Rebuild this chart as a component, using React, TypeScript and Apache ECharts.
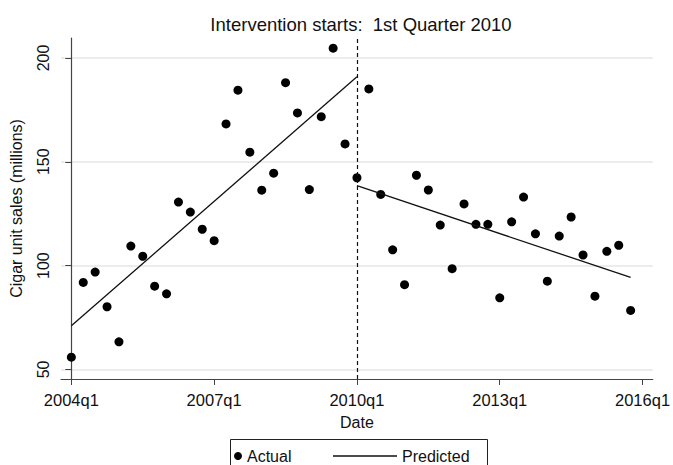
import React, { useEffect, useRef } from "react";
import * as echarts from "echarts";

const quarters: string[] = [];
const startYear = 2004;
for (let y = startYear; y <= 2015; y++) for (let q = 1; q <= 4; q++) quarters.push(`${y}q${q}`);

const actual = [
  55.9, 91.9, 96.9, 80.2, 63.3, 109.4, 104.5, 90.1, 86.4, 130.6, 125.8, 117.5,
  112.0, 168.2, 184.5, 154.6, 136.3, 144.5, 188.1, 173.5, 136.6, 171.7, 204.7, 158.6,
  142.3, 185.1, 134.3, 107.6, 90.8, 143.5, 136.4, 119.5, 98.5, 129.7, 119.9, 119.9,
  84.5, 121.1, 133.0, 115.3, 92.5, 114.2, 123.4, 105.1, 85.3, 106.9, 109.8, 78.4,
];

const predictedPre: [number, number][] = [
  [0, 71.0],
  [24, 190.9],
];
const predictedPost: [number, number][] = [
  [24, 138.5],
  [47, 94.3],
];

const xTickPositions = [0, 12, 24, 36, 48];
const xTickLabels = ["2004q1", "2007q1", "2010q1", "2013q1", "2016q1"];
const yTicks = [50, 100, 150, 200];
const interventionIndex = 24;

const FONT = "'Liberation Sans', Arial, sans-serif";

export default function App() {
  const ref = useRef<HTMLDivElement>(null);
  useEffect(() => {
    if (!ref.current) return;
    const chart = echarts.init(ref.current, undefined, { renderer: "svg" });
    const scatterData = actual.map((v, i) => [i, v]);
    chart.setOption({
      animation: false,
      backgroundColor: "#ffffff",
      textStyle: { fontFamily: FONT },
      title: {
        text: "Intervention starts:  1st Quarter 2010",
        left: 356,
        top: 10,
        textAlign: "center",
        textStyle: { fontFamily: FONT, fontSize: 18.5, fontWeight: "normal", color: "#111" },
      },
      grid: { left: 57, right: 19, top: 38, bottom: 86, containLabel: false },
      xAxis: {
        type: "value",
        min: -0.87,
        max: 48.86,
        name: "Date",
        nameLocation: "middle",
        nameGap: 35,
        nameTextStyle: { fontFamily: FONT, fontSize: 16, color: "#111" },
        axisLine: { show: true, lineStyle: { color: "#444", width: 1.2 } },
        axisTick: { show: true, length: 6, customValues: xTickPositions, lineStyle: { color: "#444" } },
        axisLabel: {
          customValues: xTickPositions,
          margin: 12,
          fontFamily: FONT,
          fontSize: 16.5,
          color: "#111",
          formatter: (v: number) => {
            const i = xTickPositions.indexOf(Math.round(v));
            return i >= 0 ? xTickLabels[i] : "";
          },
        },
        splitLine: { show: false },
      },
      yAxis: {
        type: "value",
        min: 45.4,
        max: 209.6,
        name: "Cigar unit sales (millions)",
        nameLocation: "middle",
        nameGap: 37,
        nameTextStyle: { fontFamily: FONT, fontSize: 16, color: "#111" },
        axisLine: { show: true, lineStyle: { color: "#444", width: 1.2 } },
        axisTick: { show: true, length: 6, customValues: yTicks, lineStyle: { color: "#444" } },
        axisLabel: {
          customValues: yTicks,
          rotate: 90,
          margin: 10,
          fontFamily: FONT,
          fontSize: 16,
          color: "#111",
        },
        splitLine: { show: true, lineStyle: { color: "#e6e6e6", width: 1.5 } },
      },
      legend: [
        {
          data: [{ name: "Actual", icon: "circle" }],
          left: 229,
          top: 443,
          itemWidth: 8,
          itemHeight: 8,
          itemGap: 6,
          textStyle: { fontFamily: FONT, fontSize: 16, color: "#111" },
        },
        {
          data: [{ name: "Predicted", icon: "rect" }],
          left: 328,
          top: 443,
          itemWidth: 64,
          itemHeight: 1.4,
          textStyle: { fontFamily: FONT, fontSize: 16, color: "#111" },
        },
      ],
      graphic: [
        {
          type: "rect",
          left: 228,
          top: 437,
          shape: { width: 257, height: 40 },
          style: { fill: "none", stroke: "#222", lineWidth: 1 },
          silent: true,
        },
      ],
      series: [
        {
          name: "Actual",
          type: "scatter",
          data: scatterData,
          symbol: "circle",
          symbolSize: 9,
          itemStyle: { color: "#000", opacity: 1 },
          markLine: {
            silent: true,
            symbol: "none",
            label: { show: false },
            lineStyle: { color: "#111", type: [4, 3], width: 1.2 },
            data: [{ xAxis: interventionIndex }],
          },
        },
        {
          name: "Predicted",
          type: "line",
          data: predictedPre,
          symbol: "none",
          lineStyle: { color: "#111", width: 1.3 },
          itemStyle: { color: "#111" },
        },
        {
          name: "Predicted",
          type: "line",
          data: predictedPost,
          symbol: "none",
          lineStyle: { color: "#111", width: 1.3 },
          itemStyle: { color: "#111" },
        },
      ],
    });
    return () => chart.dispose();
  }, []);
  return (
    <div
      ref={ref}
      style={{ position: "fixed", left: 0, top: 0, width: 673, height: 465, background: "#fff" }}
    />
  );
}
